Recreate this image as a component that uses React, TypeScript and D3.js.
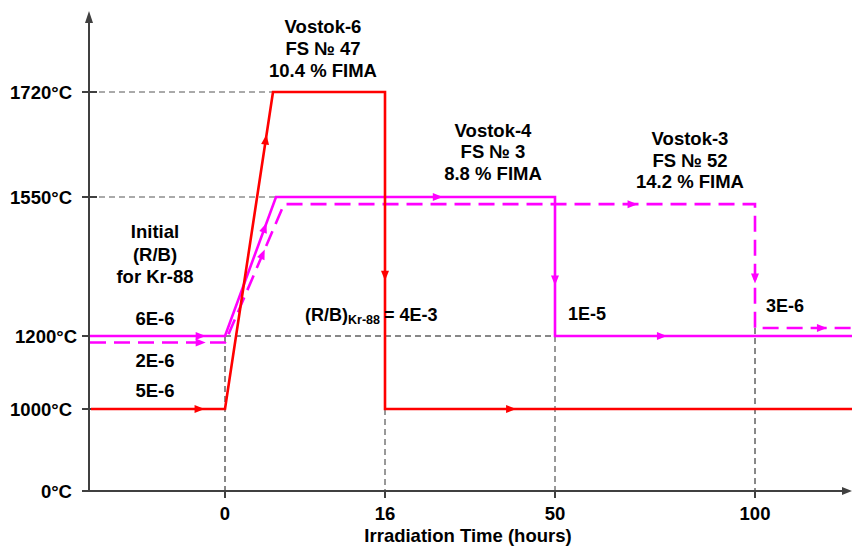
import React, { useEffect } from "react";
import * as d3 from "d3";

// ---- data ----
const timeBreaks = [-13.6, 0, 16, 50, 100, 125];
const tempBreaks = [0, 1000, 1200, 1550, 1720, 2000];
const xTicks = [0, 16, 50, 100];
const yTicks = [0, 1000, 1200, 1550, 1720];
const yTickLabels = ["0°C", "1000°C", "1200°C", "1550°C", "1720°C"];

const redTime = [-13.4, 0, 4.8, 16, 16, 125];
const redTemp = [1000, 1000, 1720, 1720, 1000, 1000];
const redArrows: [number, number][] = [[0, 0.81], [1, 0.85], [3, 0.58], [4, 0.27]];

const solidTime = [-13.5, 0, 5.1, 50, 50, 125];
const solidTemp = [1200, 1200, 1550, 1550, 1200, 1200];
const solidArrows: [number, number][] = [[0, 0.82], [1, 0.78], [2, 0.58], [3, 0.6], [4, 0.36]];

const dashTime = [-13.5, 0, 5.9, 100, 100, 125];
const dashTemp = [1182, 1182, 1532, 1532, 1220, 1220];
const dashArrows: [number, number][] = [[0, 0.82], [1, 0.64], [2, 0.74], [3, 0.6], [4, 0.69]];

const W = 852;
const H = 547;

const x = d3.scaleLinear().domain(timeBreaks).range([89, 225, 385, 555, 755, 852]);
const y = d3.scaleLinear().domain(tempBreaks).range([491, 409, 336, 197, 92, 12]);

const FONT = "'Liberation Sans', Arial, sans-serif";

function pts(t: number[], v: number[]): [number, number][] {
  return t.map((ti, i) => [x(ti), y(v[i])]);
}

function Series({ t, v, color, dash, arrows }: { t: number[]; v: number[]; color: string; dash?: string; arrows: [number, number][] }) {
  const p = pts(t, v);
  const line = d3.line();
  return (
    <g>
      <path d={line(p) || ""} fill="none" stroke={color} strokeWidth={2.6} strokeDasharray={dash} strokeLinejoin="miter" />
      {arrows.map(([seg, f], i) => {
        const a = p[seg];
        const b = p[seg + 1];
        const px = a[0] + (b[0] - a[0]) * f;
        const py = a[1] + (b[1] - a[1]) * f;
        const ang = (Math.atan2(b[1] - a[1], b[0] - a[0]) * 180) / Math.PI;
        return (
          <path key={i} d="M5,0 L-5,-4 L-5,4 Z" fill={color} transform={`translate(${px},${py}) rotate(${ang})`} />
        );
      })}
    </g>
  );
}

export default function App() {
  useEffect(() => {
    document.body.style.margin = "0";
  }, []);
  const guide = { stroke: "#333", strokeWidth: 1, strokeDasharray: "6,4" };
  const x0 = x(timeBreaks[0]);
  const xEnd = 850;
  return (
    <svg width={W} height={H} style={{ display: "block", background: "#fff" }} fontFamily={FONT} fontWeight="bold">
      {/* guides */}
      <line x1={x0} x2={x(4.8)} y1={y(1720)} y2={y(1720)} {...guide} stroke="#555" />
      <line x1={x0} x2={x(5.1)} y1={y(1550)} y2={y(1550)} {...guide} stroke="#555" />
      <line x1={x(0)} x2={x(50)} y1={y(1200)} y2={y(1200)} {...guide} stroke="#111" />
      <line x1={x(0)} x2={x(0)} y1={y(1200)} y2={y(0)} {...guide} stroke="#111" />
      <line x1={x(16)} x2={x(16)} y1={y(1000)} y2={y(0)} {...guide} />
      <line x1={x(50)} x2={x(50)} y1={y(1200)} y2={y(0)} {...guide} />
      <line x1={x(100)} x2={x(100)} y1={y(1220)} y2={y(0)} {...guide} stroke="#111" />

      {/* axes */}
      <line x1={x0} x2={x0} y1={y(0)} y2={20} stroke="#404040" strokeWidth={2} />
      <path d={`M${x0},11 L${x0 - 4},23 L${x0 + 4},23 Z`} fill="#404040" />
      <line x1={x0} x2={xEnd - 6} y1={y(0)} y2={y(0)} stroke="#404040" strokeWidth={2} />
      <path d={`M${xEnd + 2},${y(0)} L${xEnd - 8},${y(0) - 4} L${xEnd - 8},${y(0) + 4} Z`} fill="#404040" />
      {yTicks.map((v, i) => (
        <g key={v}>
          <line x1={x0 - 7} x2={x0 + 8} y1={y(v)} y2={y(v)} stroke="#404040" strokeWidth={2} />
          <text x={v === 1200 ? 77 : 72} y={y(v)} dy="0.36em" textAnchor="end" fontSize={18.5}>
            {yTickLabels[i]}
          </text>
        </g>
      ))}
      {xTicks.map((t) => (
        <g key={t}>
          <line x1={x(t)} x2={x(t)} y1={y(0)} y2={y(0) + 7} stroke="#404040" strokeWidth={2} />
          <text x={x(t)} y={520} textAnchor="middle" fontSize={18.5}>
            {t}
          </text>
        </g>
      ))}
      <text x={468} y={542} textAnchor="middle" fontSize={18.5}>
        Irradiation Time (hours)
      </text>

      {/* series */}
      <Series t={dashTime} v={dashTemp} color="#ff00ff" dash="16,8" arrows={dashArrows} />
      <Series t={solidTime} v={solidTemp} color="#ff00ff" arrows={solidArrows} />
      <Series t={redTime} v={redTemp} color="#ff0000" arrows={redArrows} />

      {/* annotations */}
      <g fontSize={18.5} textAnchor="middle">
        <text x={323} y={33}>Vostok-6</text>
        <text x={323} y={55}>FS № 47</text>
        <text x={323} y={77}>10.4 % FIMA</text>
        <text x={493} y={137}>Vostok-4</text>
        <text x={493} y={158}>FS № 3</text>
        <text x={493} y={180}>8.8 % FIMA</text>
        <text x={690} y={145}>Vostok-3</text>
        <text x={690} y={167}>FS № 52</text>
        <text x={690} y={188}>14.2 % FIMA</text>
        <text x={155} y={238}>Initial</text>
        <text x={155} y={261}>(R/B)</text>
        <text x={155} y={283}>for Kr-88</text>
        <text x={155} y={325}>6E-6</text>
        <text x={155} y={367}>2E-6</text>
        <text x={155} y={397}>5E-6</text>
      </g>
      <g fontSize={18}>
        <text x={305} y={321}>
          (R/B)
          <tspan fontSize={12.5} dy={3}>Kr-88</tspan>
          <tspan dy={-3} dx={4}>= 4E-3</tspan>
        </text>
        <text x={568} y={320}>1E-5</text>
        <text x={766} y={312}>3E-6</text>
      </g>
    </svg>
  );
}
